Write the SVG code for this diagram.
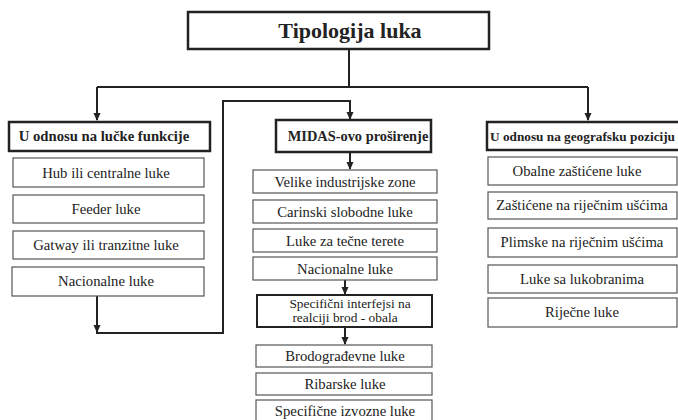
<svg xmlns="http://www.w3.org/2000/svg" width="678" height="420" viewBox="0 0 678 420">
<style>
.sub{fill:#fff;stroke:#555;stroke-width:1.2}
.hdr{fill:#fff;stroke:#222;stroke-width:2.5}
.t{font-family:"Liberation Serif","Times New Roman",serif;font-size:14.7px;fill:#222;text-anchor:middle}
.b{font-weight:bold}
.c{fill:none;stroke:#222;stroke-width:2}
</style>
<defs>
<marker id="ah" markerWidth="8" markerHeight="8" refX="7" refY="4" orient="auto" markerUnits="userSpaceOnUse">
<path d="M0,0.5 L8,4 L0,7.5 Z" fill="#222"/>
</marker>
</defs>
<rect width="678" height="420" fill="#fff"/>
<g id="connectors">
<path class="c" d="M349,50 V87"/>
<path class="c" d="M97,87 H588"/>
<path class="c" d="M97,87 V120" marker-end="url(#ah)"/>
<path class="c" d="M588,87 V120" marker-end="url(#ah)"/>
<path class="c" d="M97,296 V333 H223 V101 H350 V119" marker-end="url(#ah)"/>
<path class="c" d="M97,310 V332" marker-end="url(#ah)"/>
<path class="c" d="M350,152 V169" marker-end="url(#ah)"/>
<path class="c" d="M345,280 V294" marker-end="url(#ah)"/>
<path class="c" d="M345,327 V344" marker-end="url(#ah)"/>
</g>
<g id="title">
<rect class="hdr" x="188" y="12" width="301" height="37"/>
<text class="t b" x="350" y="38" style="font-size:22px">Tipologija luka</text>
</g>
<g id="h-left">
<rect class="hdr" x="9" y="122" width="201" height="29"/>
<text class="t b" x="104" y="141">U odnosu na lučke funkcije</text>
</g>
<g id="l1"><rect class="sub" x="13" y="158" width="191" height="29"/><text class="t" x="106" y="178">Hub ili centralne luke</text></g>
<g id="l2"><rect class="sub" x="13" y="195" width="191" height="28"/><text class="t" x="106" y="214">Feeder luke</text></g>
<g id="l3"><rect class="sub" x="13" y="231" width="191" height="28"/><text class="t" x="106" y="250">Gatway ili tranzitne luke</text></g>
<g id="l4"><rect class="sub" x="12" y="267" width="192" height="29"/><text class="t" x="106" y="286">Nacionalne luke</text></g>
<g id="h-mid">
<rect class="hdr" x="276" y="120" width="155" height="32"/>
<text class="t b" x="358" y="141" style="font-size:14.4px">MIDAS-ovo proširenje</text>
</g>
<g id="m1"><rect class="sub" x="253" y="170" width="184" height="23"/><text class="t" x="345" y="187">Velike industrijske zone</text></g>
<g id="m2"><rect class="sub" x="253" y="200" width="184" height="23"/><text class="t" x="345" y="217">Carinski slobodne luke</text></g>
<g id="m3"><rect class="sub" x="253" y="229" width="184" height="23"/><text class="t" x="345" y="246">Luke za tečne terete</text></g>
<g id="m4"><rect class="sub" x="253" y="257" width="184" height="23"/><text class="t" x="345" y="274">Nacionalne luke</text></g>
<g id="m5">
<rect class="hdr" x="257" y="295" width="175" height="32" style="stroke-width:2"/>
<text class="t" x="350" y="308" style="font-size:13.4px">Specifični interfejsi na</text>
<text class="t" x="345" y="322" style="font-size:13.4px">realciji brod - obala</text>
</g>
<g id="m6"><rect class="sub" x="256" y="345" width="176" height="22"/><text class="t" x="345" y="361">Brodograđevne luke</text></g>
<g id="m7"><rect class="sub" x="256" y="373" width="176" height="22"/><text class="t" x="345" y="389">Ribarske luke</text></g>
<g id="m8"><rect class="sub" x="256" y="400" width="176" height="22"/><text class="t" x="345" y="416">Specifične izvozne luke</text></g>
<g id="h-right">
<rect class="hdr" x="487" y="122" width="195" height="28"/>
<text class="t b" x="490" y="141" style="font-size:13.3px;text-anchor:start" textLength="185" lengthAdjust="spacingAndGlyphs">U odnosu na geografsku poziciju</text>
</g>
<g id="r1"><rect class="sub" x="488" y="157" width="189" height="28"/><text class="t" x="577" y="176">Obalne zaštićene luke</text></g>
<g id="r2"><rect class="sub" x="488" y="192" width="189" height="27"/><text class="t" x="582" y="210">Zaštićene na riječnim ušćima</text></g>
<g id="r3"><rect class="sub" x="488" y="228" width="189" height="29"/><text class="t" x="582" y="247">Plimske na riječnim ušćima</text></g>
<g id="r4"><rect class="sub" x="488" y="265" width="189" height="28"/><text class="t" x="582" y="284">Luke sa lukobranima</text></g>
<g id="r5"><rect class="sub" x="488" y="298" width="189" height="29"/><text class="t" x="582" y="317">Riječne luke</text></g>
</svg>
